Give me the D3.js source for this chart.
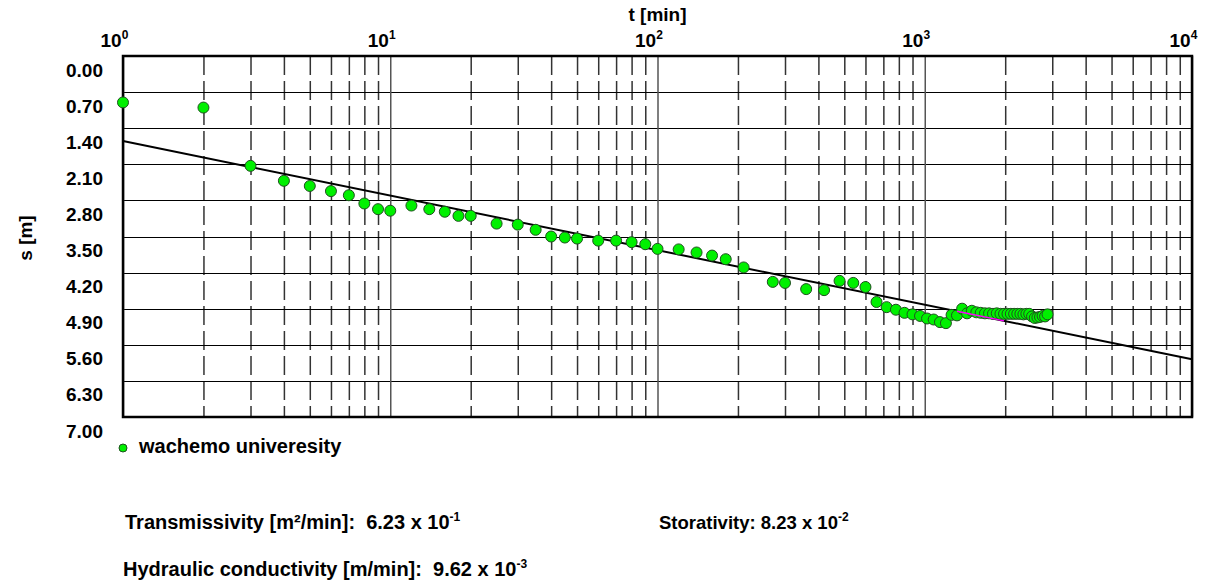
<!DOCTYPE html>
<html>
<head>
  <script src="https://cdn.jsdelivr.net/npm/d3@7"></script>
  <style>
    body { margin: 0; background: #fff; }
    text { font-family: "Liberation Sans", Arial, sans-serif; font-weight: bold; fill: #000; white-space: pre; }
  </style>
</head>
<body>
  <div id="chart"></div>
  <script>
    // time since pumping started [min] and drawdown [m]
    const timeMin = [1, 2, 3, 4, 5, 6, 7, 8, 9, 10, 12, 14, 16, 18, 20, 25, 30, 35, 40, 45, 50,
      60, 70, 80, 90, 100, 120, 140, 160, 180, 210, 270, 300, 360, 420, 480, 540, 600, 660, 720,
      780, 840, 900, 960, 1020, 1080, 1140, 1200, 1260, 1320, 1380, 1440, 1500, 1560, 1620, 1680,
      1740, 1800, 1860, 1920, 1980, 2040, 2100, 2160, 2220, 2280, 2340, 2400, 2460, 2520, 2580,
      2640, 2700, 2760, 2820, 2880];
    const drawdown = [0.90, 1.00, 2.13, 2.42, 2.52, 2.62, 2.70, 2.86, 2.97, 3.00, 2.90, 2.97, 3.02,
      3.10, 3.10, 3.25, 3.27, 3.37, 3.50, 3.52, 3.54, 3.58, 3.58, 3.61, 3.65, 3.74, 3.75, 3.81,
      3.87, 3.94, 4.10, 4.38, 4.40, 4.52, 4.54, 4.36, 4.40, 4.48, 4.77, 4.87, 4.92, 4.98, 5.01,
      5.04, 5.09, 5.11, 5.16, 5.18, 5.02, 5.03, 4.90, 4.99, 4.94, 4.97, 4.98, 4.99, 4.99, 5.00,
      4.99, 5.00, 5.00, 5.00, 5.00, 5.00, 5.00, 5.00, 5.01, 5.00, 5.00, 5.05, 5.08, 5.07, 5.06,
      5.04, 5.05, 5.01];

    // Cooper-Jacob straight line (end points)
    const fitTime = [1, 10000];
    const fitDrawdown = [1.65, 5.88];
    const selTime = [1320, 1980];

    const sTicks = [0, 0.7, 1.4, 2.1, 2.8, 3.5, 4.2, 4.9, 5.6, 6.3, 7.0];
    const decades = [1, 10, 100, 1000, 10000];
    const decadeExp = ["0", "1", "2", "3", "4"];

    const seriesName = "wachemo univeresity";
    const results = [
      { label: "Transmissivity [m\u00b2/min]:  6.23 x 10", exp: "-1" },
      { label: "Storativity: 8.23 x 10", exp: "-2" },
      { label: "Hydraulic conductivity [m/min]:  9.62 x 10", exp: "-3" }
    ];

    const W = 1216, H = 582;
    const pLeft = 123, pRight = 1192, pTop = 56, pBottom = 417;

    const svg = d3.select("#chart").append("svg")
      .attr("width", W).attr("height", H);

    const x = d3.scaleLog().domain([1, 10000]).range([pLeft, pRight]);
    const y = d3.scaleLinear().domain([0, 7]).range([pTop, pBottom]);

    // minor dashed verticals
    const minor = x.ticks().filter(d => !decades.includes(d));
    svg.append("g")
      .attr("transform", `translate(0,${pTop})`)
      .call(d3.axisTop(x).tickValues(minor).tickSize(-(pBottom - pTop)).tickFormat(""))
      .call(g => g.select(".domain").remove())
      .call(g => g.selectAll("line")
        .attr("stroke", "#333").attr("stroke-width", 1.5)
        .attr("stroke-dasharray", "19,6"));

    // horizontal grid
    svg.append("g")
      .attr("transform", `translate(${pLeft},0)`)
      .call(d3.axisLeft(y).tickValues(sTicks).tickSize(-(pRight - pLeft)).tickFormat(""))
      .call(g => g.select(".domain").remove())
      .call(g => g.selectAll("line")
        .attr("stroke", "#000").attr("stroke-width", 1).attr("shape-rendering", "crispEdges"));

    // decade verticals
    svg.append("g")
      .attr("transform", `translate(0,${pBottom})`)
      .call(d3.axisBottom(x).tickValues(decades).tickSize(-(pBottom - pTop)).tickFormat(""))
      .call(g => g.select(".domain").remove())
      .call(g => g.selectAll("line").attr("stroke", "#555").attr("stroke-width", 1.5));

    // y labels
    svg.append("g")
      .attr("transform", `translate(${pLeft},0)`)
      .call(d3.axisLeft(y).tickValues(sTicks).tickSize(0).tickPadding(20).tickFormat(d3.format(".2f")))
      .call(g => g.select(".domain").remove())
      .call(g => g.selectAll("text")
        .attr("dy", 20).attr("font-size", 19).attr("fill", "#000")
        .attr("font-family", "Liberation Sans, Arial, sans-serif").attr("font-weight", "bold"));

    // x labels with exponents
    const xl = svg.append("g")
      .attr("transform", `translate(0,${pTop})`)
      .call(d3.axisTop(x).tickValues(decades).tickSize(0).tickFormat(""))
      .call(g => g.select(".domain").remove());
    xl.selectAll(".tick").append("text")
      .attr("x", -23).attr("y", -9).attr("font-size", 19)
      .attr("fill", "#000").attr("text-anchor", "start")
      .text("10")
      .append("tspan")
      .attr("font-size", 12).attr("dy", -8)
      .text((d, i) => decadeExp[i]);

    // axis titles
    svg.append("text").attr("x", (pLeft + pRight) / 2).attr("y", 21)
      .attr("text-anchor", "middle").attr("font-size", 19).text("t [min]");
    svg.append("text")
      .attr("transform", `translate(32,238) rotate(-90)`)
      .attr("text-anchor", "middle").attr("font-size", 19).text("s [m]");

    // fitted line
    const line = d3.line().x(d => x(d[0])).y(d => y(d[1]));
    const fitPts = d3.zip(fitTime, fitDrawdown);
    svg.append("path").datum(fitPts).attr("d", line)
      .attr("fill", "none").attr("stroke", "#000").attr("stroke-width", 2);

    // frame
    svg.append("rect")
      .attr("x", pLeft).attr("y", pTop)
      .attr("width", pRight - pLeft).attr("height", pBottom - pTop)
      .attr("fill", "none").attr("stroke", "#000").attr("stroke-width", 2.5);

    // observed points
    const pts = d3.zip(timeMin, drawdown);
    svg.append("g").selectAll("circle").data(pts).join("circle")
      .attr("cx", d => x(d[0])).attr("cy", d => y(d[1])).attr("r", 5.5)
      .attr("fill", "#00f000").attr("stroke", "#1f4f1f").attr("stroke-width", 1);

    // selected segment of the fit (magenta)
    const fitAt = t => fitDrawdown[0] + (fitDrawdown[1] - fitDrawdown[0]) *
      Math.log10(t / fitTime[0]) / Math.log10(fitTime[1] / fitTime[0]);
    svg.append("path").datum(selTime.map(t => [t, fitAt(t)])).attr("d", line)
      .attr("fill", "none").attr("stroke", "#ff00ff").attr("stroke-width", 1.5);

    // legend
    svg.append("circle").attr("cx", 123).attr("cy", 448).attr("r", 4)
      .attr("fill", "#00f000").attr("stroke", "#1f4f1f").attr("stroke-width", 1);
    svg.append("text").attr("x", 139).attr("y", 453).attr("font-size", 20).text(seriesName);

    // results
    const pos = [[125, 529, 20], [659, 529, 18.5], [123, 576, 20]];
    results.forEach((r, i) => {
      svg.append("text").attr("x", pos[i][0]).attr("y", pos[i][1]).attr("font-size", pos[i][2])
        .attr("xml:space", "preserve")
        .text(r.label)
        .append("tspan").attr("font-size", 12).attr("dy", -8).text(r.exp);
    });
  </script>
</body>
</html>
